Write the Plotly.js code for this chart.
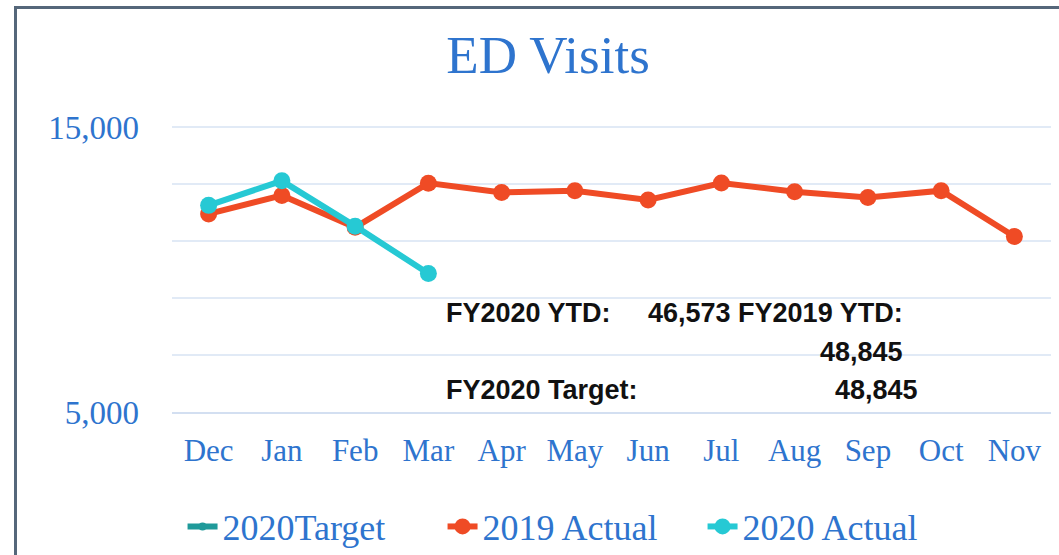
<!DOCTYPE html>
<html>
<head>
<meta charset="utf-8">
<script src="https://cdn.plot.ly/plotly-3.0.1.min.js"></script>
<style>
  html, body { margin: 0; padding: 0; background: #ffffff; }
  #wrap { position: relative; width: 1059px; height: 555px; overflow: hidden; }
  #chart { position: absolute; left: 0; top: 0; width: 1059px; height: 555px; }
  #frame { position: absolute; left: 14px; top: 6px; width: 1100px; height: 600px;
           border-left: 3px solid #55677A; border-top: 3px solid #55677A; pointer-events: none; }
</style>
</head>
<body>
<div id="wrap">
  <div id="chart"></div>
  <div id="frame"></div>
</div>
<script>
// ---- data ----
const months = ['Dec', 'Jan', 'Feb', 'Mar', 'Apr', 'May', 'Jun', 'Jul', 'Aug', 'Sep', 'Oct', 'Nov'];
const target2020 = [null, null, null, null, null, null, null, null, null, null, null, null];
const actual2019 = [11950, 12600, 11480, 13030, 12705, 12765, 12440, 13034, 12730, 12530, 12765, 11158];
const actual2020 = [12250, 13110, 11520, 9860];
const yTickVals = [5000, 7000, 9000, 11000, 13000, 15000];
const yTickText = ['5,000', '', '', '', '', '15,000'];
const ytd2020 = '46,573';
const ytd2019 = '48,845';
const targetFY2020 = '48,845';

const serif = '"Liberation Serif", "DejaVu Serif", serif';
const blue = '#2E74CE';

const traces = [
  { name: '2020Target', type: 'scatter', mode: 'lines+markers', x: months, y: target2020,
    line: { color: '#1F9A9A', width: 6 }, marker: { color: '#1F9A9A', size: 8 } },
  { name: '2019 Actual', type: 'scatter', mode: 'lines+markers', x: months, y: actual2019,
    line: { color: '#EF4B25', width: 6 }, marker: { color: '#EF4B25', size: 17 } },
  { name: '2020 Actual', type: 'scatter', mode: 'lines+markers', x: months.slice(0, actual2020.length), y: actual2020,
    line: { color: '#26C9D4', width: 6 }, marker: { color: '#26C9D4', size: 17 } }
];

// plot area spans y 122..412 px; annotation positions in paper fractions
const noteFont = { family: '"Liberation Sans", Arial, sans-serif', size: 27, color: '#111111' };
const annotations = [
  { text: '<b>FY2020 YTD:</b>', xref: 'paper', yref: 'paper', x: 0.31, y: 0.341, xanchor: 'left', yanchor: 'middle', showarrow: false, font: noteFont },
  { text: '<b>' + ytd2020 + ' FY2019 YTD:</b>', xref: 'paper', yref: 'paper', x: 0.834, y: 0.341, xanchor: 'right', yanchor: 'middle', showarrow: false, font: noteFont },
  { text: '<b>' + ytd2019 + '</b>', xref: 'paper', yref: 'paper', x: 0.834, y: 0.207, xanchor: 'right', yanchor: 'middle', showarrow: false, font: noteFont },
  { text: '<b>FY2020 Target:</b>', xref: 'paper', yref: 'paper', x: 0.31, y: 0.076, xanchor: 'left', yanchor: 'middle', showarrow: false, font: noteFont },
  { text: '<b>' + targetFY2020 + '</b>', xref: 'paper', yref: 'paper', x: 0.851, y: 0.076, xanchor: 'right', yanchor: 'middle', showarrow: false, font: noteFont }
];

const layout = {
  width: 1059, height: 555,
  margin: { l: 172, r: 8, t: 122, b: 143, autoexpand: false },
  paper_bgcolor: 'rgba(0,0,0,0)', plot_bgcolor: 'rgba(0,0,0,0)',
  title: { text: 'ED Visits', font: { family: serif, size: 53, color: blue },
           xref: 'container', x: 0.5175, xanchor: 'center', yref: 'container', y: 0.902, yanchor: 'middle' },
  xaxis: { type: 'category', showgrid: false, zeroline: false,
           showline: true, linecolor: '#D3DFF1', linewidth: 2,
           tickfont: { family: serif, size: 31, color: blue }, ticklabelstandoff: 10,
           range: [-0.5, 11.5] },
  yaxis: { range: [5000, 15175], tickvals: yTickVals, ticktext: yTickText,
           showgrid: true, gridcolor: '#E1EAF6', gridwidth: 1.5, zeroline: false,
           tickfont: { family: serif, size: 33, color: blue }, ticklabelstandoff: 32 },
  showlegend: true,
  legend: { orientation: 'h', x: 0.012, xanchor: 'left', y: -0.395, yanchor: 'middle',
            font: { family: serif, size: 36, color: blue }, itemwidth: 30, traceorder: 'normal',
            entrywidth: 215, entrywidthmode: 'pixels' },
  annotations: annotations
};

Plotly.newPlot('chart', traces, layout, { displayModeBar: false, staticPlot: true });
</script>
</body>
</html>
